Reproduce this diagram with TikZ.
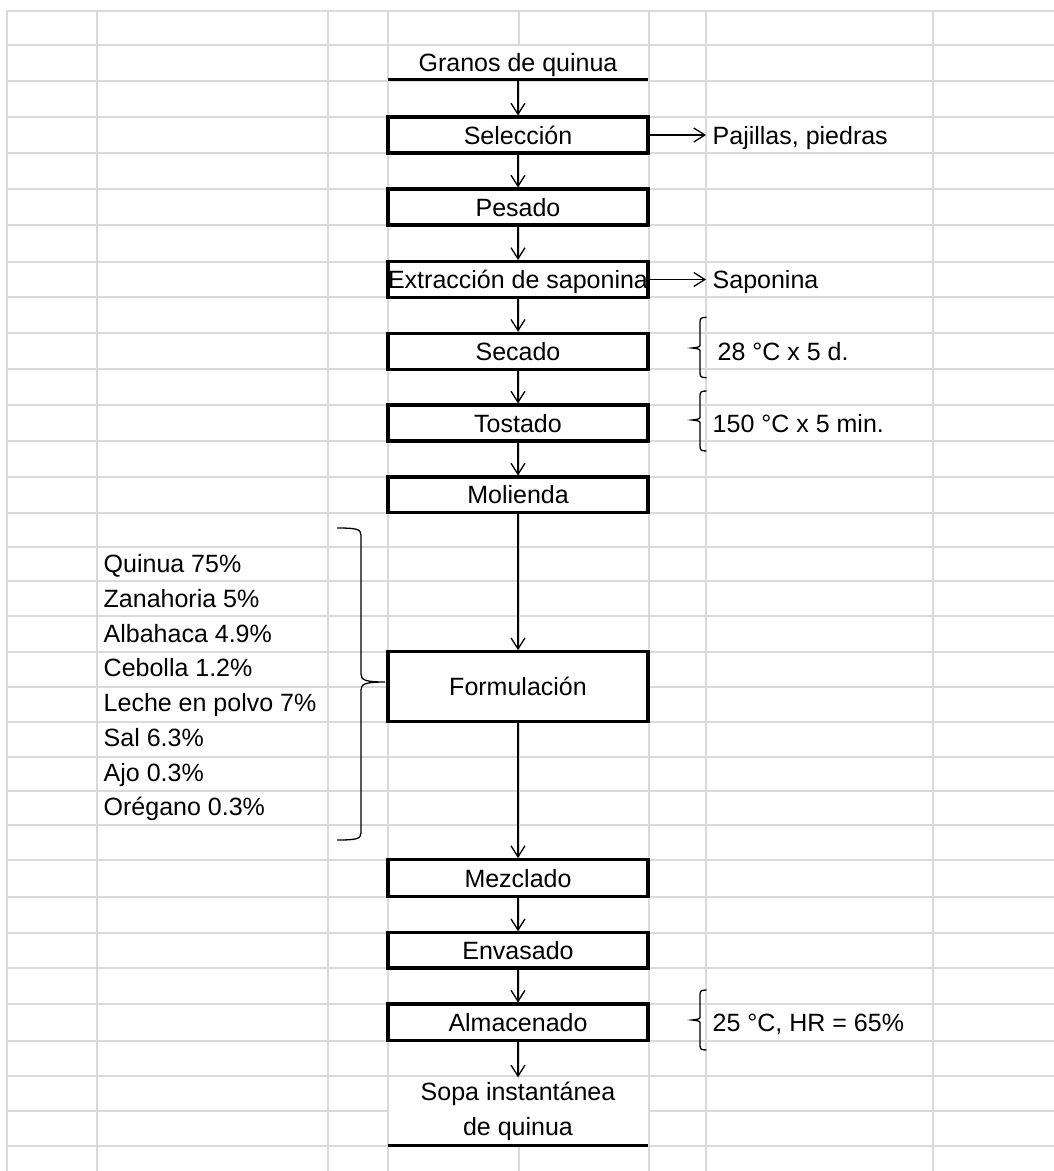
\documentclass[tikz,border=0pt]{standalone}
\usepackage{fontspec}
\setmainfont{Liberation Sans}
\usepackage{xcolor}
\usepackage{tikz}
\usetikzlibrary{arrows.meta}
\definecolor{cellgrid}{RGB}{218,218,218}

\begin{document}
\begin{tikzpicture}[
    x=1pt, y=-1pt,
    font=\fontsize{25}{34.3}\selectfont,
    box/.style={rectangle, draw, line width=3.2pt, fill=white, minimum width=260pt, minimum height=36pt, inner sep=0pt, text height=23.75pt, text depth=5.75pt},
    endtext/.style={rectangle, fill=white, inner sep=0pt, minimum width=259pt, text height=23.75pt, text depth=5.75pt},
    note/.style={anchor=west, inner xsep=6.5pt, inner ysep=0pt, text height=23.75pt, text depth=5.75pt},
    arrow/.style={-{Straight Barb[length=11pt, width=14pt]}, line width=1.3pt},
    curl/.style={line width=1.3pt},
]
    \fill[white] (0,0) rectangle (1054,1171);
    \useasboundingbox (0,0) rectangle (1054,1171);

    % Sheet grid
    \foreach \gx in {7,96.7,327.5,387.5,518.5,648.5,705.7,933}
        \draw[cellgrid, line width=2pt] (\gx,10) -- (\gx,1171);
    \foreach \gy in {11,44.5,80.7,117,153,189,225,261.7,297.3,333.3,369.3,405,441,477,512.7,546.7,580.7,616,651.7,686.7,721.7,756.7,791,825,859.5,896.7,932.7,968,1004,1040.7,1075.7,1110.7,1146}
        \draw[cellgrid, line width=2pt] (6,\gy) -- (1054,\gy);

    % Raw material
    \node[endtext, minimum height=34pt] (granos) at (518,62.6) {Granos de quinua};
    \draw[line width=3.2pt] (granos.south west) -- (granos.south east);

    % Process steps
    \node[box] (seleccion) at (518,135) {Selección};
    \node[box] (pesado) at (518,207) {Pesado};
    \node[box] (extraccion) at (518,279.5) {Extracción de saponina};
    \node[box] (secado) at (518,351.3) {Secado};
    \node[box] (tostado) at (518,423) {Tostado};
    \node[box, minimum height=35.7pt] (molienda) at (518,494.9) {Molienda};
    \node[box, minimum height=70pt] (formulacion) at (518,686.7) {Formulación};
    \node[box, minimum height=37pt] (mezclado) at (518,878.1) {Mezclado};
    \node[box, minimum height=35.3pt] (envasado) at (518,950.4) {Envasado};
    \node[box, minimum height=36.7pt] (almacenado) at (518,1022.4) {Almacenado};

    % Product
    \node[rectangle, fill=white, inner sep=0pt, minimum width=259pt, minimum height=68pt, align=center] (sopa) at (518,1111.5) {Sopa instantánea\\de quinua};
    \draw[line width=3.2pt] (sopa.south west) -- (sopa.south east);

    % Outputs and conditions
    \node[note] (pajillas) at (706,135) {Pajillas, piedras};
    \node[note] (saponina) at (706,279.5) {Saponina};
    \node[note] (secadocond) at (711,351.3) {28 °C x 5 d.};
    \node[note] (tostadocond) at (706,423) {150 °C x 5 min.};
    \node[note] (almacenadocond) at (706,1022.4) {25 °C, HR = 65\%};

    % Formulation
    \foreach \ing [count=\i] in {Quinua 75\%, Zanahoria 5\%, Albahaca 4.9\%, Cebolla 1.2\%, Leche en polvo 7\%, Sal 6.3\%, Ajo 0.3\%, Orégano 0.3\%}
        \node[note] (ing\i) at (97,{563.7+34.75*(\i-1)}) {\ing};

    % Braces
    \foreach \ya/\yb/\yc in {317.3/348/377.7, 391/420/451, 990/1020/1050}
        \draw[curl] (706.5,\ya) .. controls (701,\ya) and (700,{\ya+1}) .. (700,{\ya+5}) -- (700,{\yb-4})
            .. controls (700,{\yb-1}) .. (692,\yb) .. controls (700,{\yb+1}) .. (700,{\yb+4})
            -- (700,{\yc-5}) .. controls (700,{\yc-1}) and (701,\yc) .. (706.5,\yc);
    \draw[curl] (337,528) .. controls (356,528) and (361,529) .. (361,535) -- (361,674)
        .. controls (361,680) and (365,682) .. (385,682)
        .. controls (365,682) and (361,684) .. (361,690) -- (361,833)
        .. controls (361,839) and (356,840) .. (337,840);

    % Arrows
    \draw[arrow] (granos.south) -- (seleccion.north);
    \draw[arrow] (seleccion.south) -- (pesado.north);
    \draw[arrow] (pesado.south) -- (extraccion.north);
    \draw[arrow] (extraccion.south) -- (secado.north);
    \draw[arrow] (secado.south) -- (tostado.north);
    \draw[arrow] (tostado.south) -- (molienda.north);
    \draw[arrow] (molienda.south) -- (formulacion.north);
    \draw[arrow] (formulacion.south) -- (mezclado.north);
    \draw[arrow] (mezclado.south) -- (envasado.north);
    \draw[arrow] (envasado.south) -- (almacenado.north);
    \draw[arrow] (almacenado.south) -- (sopa.north);
    \draw[arrow] (seleccion.east) -- (pajillas.west);
    \draw[arrow] (extraccion.east) -- (saponina.west);
\end{tikzpicture}
\end{document}
